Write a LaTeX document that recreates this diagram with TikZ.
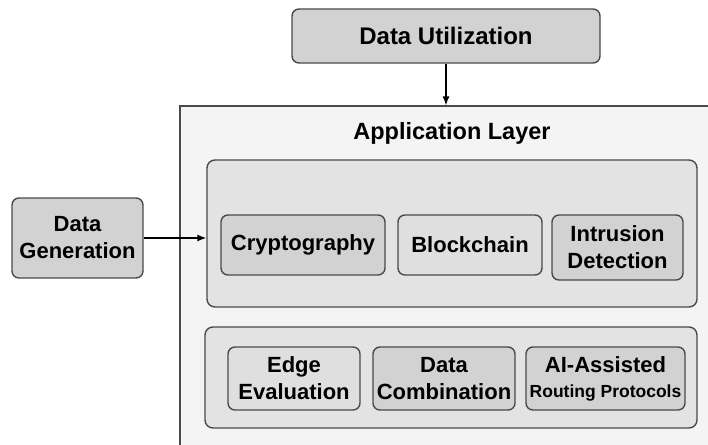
\documentclass[tikz,border=0pt]{standalone}
\usepackage{fontspec}
\setmainfont{Liberation Sans}
\usetikzlibrary{arrows.meta}
\definecolor{edgegray}{HTML}{4A4A4A}
\definecolor{outerfill}{HTML}{F4F4F4}
\definecolor{layerfill}{HTML}{E3E3E3}
\definecolor{darkfill}{HTML}{D2D2D2}
\definecolor{lightfill}{HTML}{DFDFDF}
\begin{document}
\begin{tikzpicture}[x=1pt,y=-1pt,
	box/.style={draw=edgegray,line width=1.4pt,rounded corners=7pt,inner sep=0pt,align=center,
		font=\bfseries\fontsize{22}{27}\selectfont},
	darkbox/.style={box,fill=darkfill},
	lightbox/.style={box,fill=lightfill},
	layer/.style={draw=edgegray,line width=1.4pt,rounded corners=8pt,fill=layerfill},
	flow/.style={line width=1.3pt,-{Latex[length=9pt,width=7pt]}}]
		\useasboundingbox (0,0) rectangle (708,444);
		\clip (0,0) rectangle (708,444);
		\fill[white] (0,0) rectangle (708,444);
		\node[draw=edgegray,line width=1.2pt,fill=outerfill,minimum width=560pt,minimum height=370pt] (outer) at (460,291) {};
		\node[font=\bfseries\fontsize{23.5}{28}\selectfont] (title) at (452,133) {Application Layer};
		\node[layer,minimum width=490pt,minimum height=147pt] (secure) at (452,233.5) {};
		\node[layer,minimum width=492pt,minimum height=101pt] (network) at (451,377.5) {};
		\node[darkbox,minimum width=308pt,minimum height=54pt,font=\bfseries\fontsize{24}{28}\selectfont] (utilize) at (446,36) {Data Utilization};
		\node[darkbox,minimum width=131pt,minimum height=80pt] (generate) at (77.5,238) {Data\\Generation};
		\node[darkbox,minimum width=164pt,minimum height=60pt] (crypto) at (303,245) {Cryptography};
		\node[lightbox,minimum width=144pt,minimum height=60pt] (chain) at (470,245) {Blockchain};
		\node[darkbox,minimum width=131pt,minimum height=65pt] (intrusion) at (617.5,247.5) {Intrusion\\Detection};
		\node[lightbox,minimum width=132pt,minimum height=63pt] (edge) at (294,378.5) {Edge\\Evaluation};
		\node[darkbox,minimum width=142pt,minimum height=63pt] (combine) at (444,378.5) {Data\\Combination};
		\node[darkbox,minimum width=159pt,minimum height=63pt] (routing) at (605.5,378.5) {AI-Assisted\\[-2pt]{\fontsize{17.5}{20}\selectfont Routing Protocols}};
		\draw[flow] (utilize) -- (utilize |- outer.north);
		\draw[flow] (generate) -- (generate -| secure.west);
	    \end{tikzpicture}
\end{document}
